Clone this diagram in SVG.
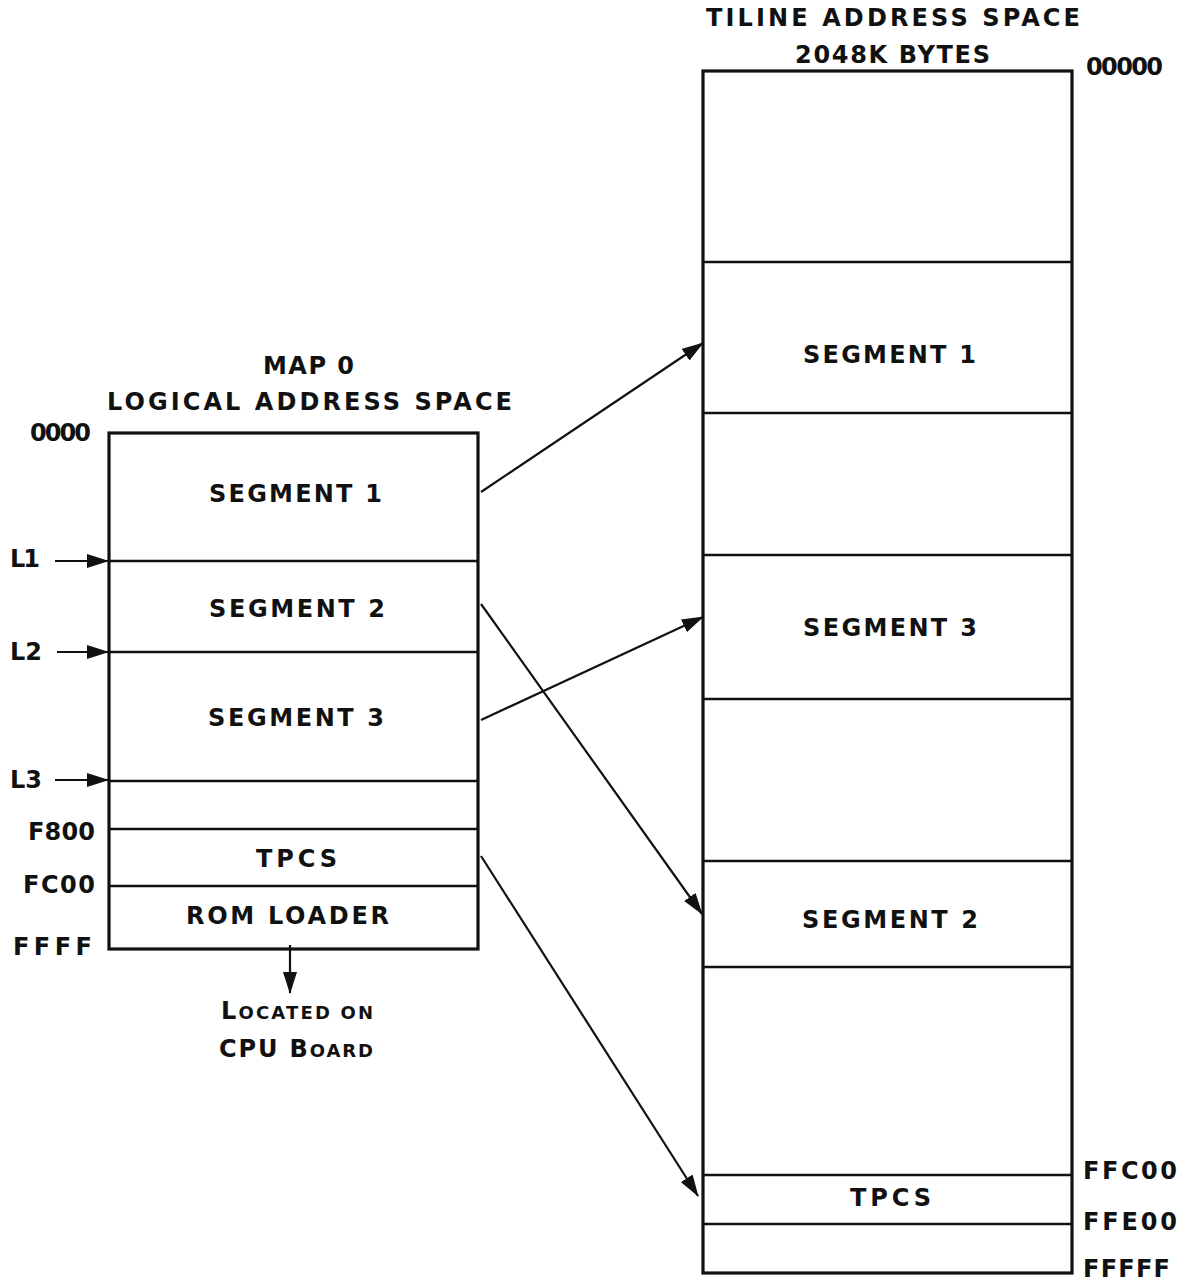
<svg xmlns="http://www.w3.org/2000/svg" width="1190" height="1283" viewBox="0 0 1190 1283">
<style>
text{font-family:"DejaVu Sans","Liberation Sans",sans-serif;font-weight:bold;font-size:24px;fill:#111}
.sc{font-size:18px}
.big{font-size:24px}
.outer{fill:none;stroke:#111;stroke-width:3.2}
.div{stroke:#111;stroke-width:2.4}
.conn{stroke:#111;stroke-width:2.2;fill:none;marker-end:url(#ah)}
</style>
<defs>
<marker id="ah" viewBox="0 0 22 14" refX="21" refY="7" markerWidth="22" markerHeight="14" markerUnits="userSpaceOnUse" orient="auto">
<path d="M0,0 L22,7 L0,14 Z" fill="#111"/>
</marker>
</defs>
<rect width="1190" height="1283" fill="#fff"/>

<g id="titles">
<text x="706" y="26" textLength="374" lengthAdjust="spacing">TILINE ADDRESS SPACE</text>
<text x="795" y="63" textLength="195" lengthAdjust="spacing">2048K BYTES</text>
<text x="263" y="374" textLength="91" lengthAdjust="spacing">MAP 0</text>
<text x="107" y="410" textLength="405" lengthAdjust="spacing">LOGICAL ADDRESS SPACE</text>
</g>

<g id="logical-space">
<rect class="outer" x="109" y="433" width="369" height="516"/>
<line class="div" x1="109" y1="561" x2="478" y2="561"/>
<line class="div" x1="109" y1="652" x2="478" y2="652"/>
<line class="div" x1="109" y1="781" x2="478" y2="781"/>
<line class="div" x1="109" y1="829" x2="478" y2="829"/>
<line class="div" x1="109" y1="886" x2="478" y2="886"/>
<text x="209" y="502" textLength="173" lengthAdjust="spacing">SEGMENT 1</text>
<text x="209" y="617" textLength="176" lengthAdjust="spacing">SEGMENT 2</text>
<text x="208" y="726" textLength="176" lengthAdjust="spacing">SEGMENT 3</text>
<text x="256" y="867" textLength="81" lengthAdjust="spacing">TPCS</text>
<text x="186" y="924" textLength="203" lengthAdjust="spacing">ROM LOADER</text>
</g>

<g id="logical-labels">
<text x="30" y="441" textLength="61" lengthAdjust="spacing">0000</text>
<text x="10" y="567" textLength="30" lengthAdjust="spacing">L1</text>
<text x="10" y="660" textLength="32" lengthAdjust="spacing">L2</text>
<text x="10" y="788" textLength="32" lengthAdjust="spacing">L3</text>
<text x="28" y="840" textLength="67" lengthAdjust="spacing">F800</text>
<text x="23" y="893" textLength="72" lengthAdjust="spacing">FC00</text>
<text x="13" y="955" textLength="79" lengthAdjust="spacing">FFFF</text>
<text class="sc" x="221" y="1019" textLength="152" lengthAdjust="spacing"><tspan class="big">L</tspan>OCATED ON</text>
<text x="219" y="1057" textLength="154" lengthAdjust="spacing">CPU B<tspan class="sc">OARD</tspan></text>
</g>

<g id="tiline-space">
<rect class="outer" x="703" y="71" width="369" height="1202"/>
<line class="div" x1="703" y1="262" x2="1072" y2="262"/>
<line class="div" x1="703" y1="413" x2="1072" y2="413"/>
<line class="div" x1="703" y1="555" x2="1072" y2="555"/>
<line class="div" x1="703" y1="699" x2="1072" y2="699"/>
<line class="div" x1="703" y1="861" x2="1072" y2="861"/>
<line class="div" x1="703" y1="967" x2="1072" y2="967"/>
<line class="div" x1="703" y1="1175" x2="1072" y2="1175"/>
<line class="div" x1="703" y1="1224" x2="1072" y2="1224"/>
<text x="803" y="363" textLength="173" lengthAdjust="spacing">SEGMENT 1</text>
<text x="803" y="636" textLength="174" lengthAdjust="spacing">SEGMENT 3</text>
<text x="802" y="928" textLength="176" lengthAdjust="spacing">SEGMENT 2</text>
<text x="850" y="1206" textLength="81" lengthAdjust="spacing">TPCS</text>
</g>

<g id="tiline-labels">
<text x="1086" y="75" textLength="77" lengthAdjust="spacing">00000</text>
<text x="1083" y="1179" textLength="94" lengthAdjust="spacing">FFC00</text>
<text x="1083" y="1230" textLength="94" lengthAdjust="spacing">FFE00</text>
<text x="1083" y="1277" textLength="87" lengthAdjust="spacing">FFFFF</text>
</g>

<g id="connectors">
<line class="conn" x1="55" y1="561" x2="108" y2="561"/>
<line class="conn" x1="57" y1="652" x2="108" y2="652"/>
<line class="conn" x1="55" y1="780" x2="108" y2="780"/>
<line class="conn" x1="290" y1="945" x2="290" y2="993"/>
<line class="conn" x1="481" y1="492" x2="703" y2="343"/>
<line class="conn" x1="481" y1="604" x2="702" y2="914"/>
<line class="conn" x1="481" y1="720" x2="703" y2="617"/>
<line class="conn" x1="481" y1="856" x2="698" y2="1196"/>
</g>
</svg>
